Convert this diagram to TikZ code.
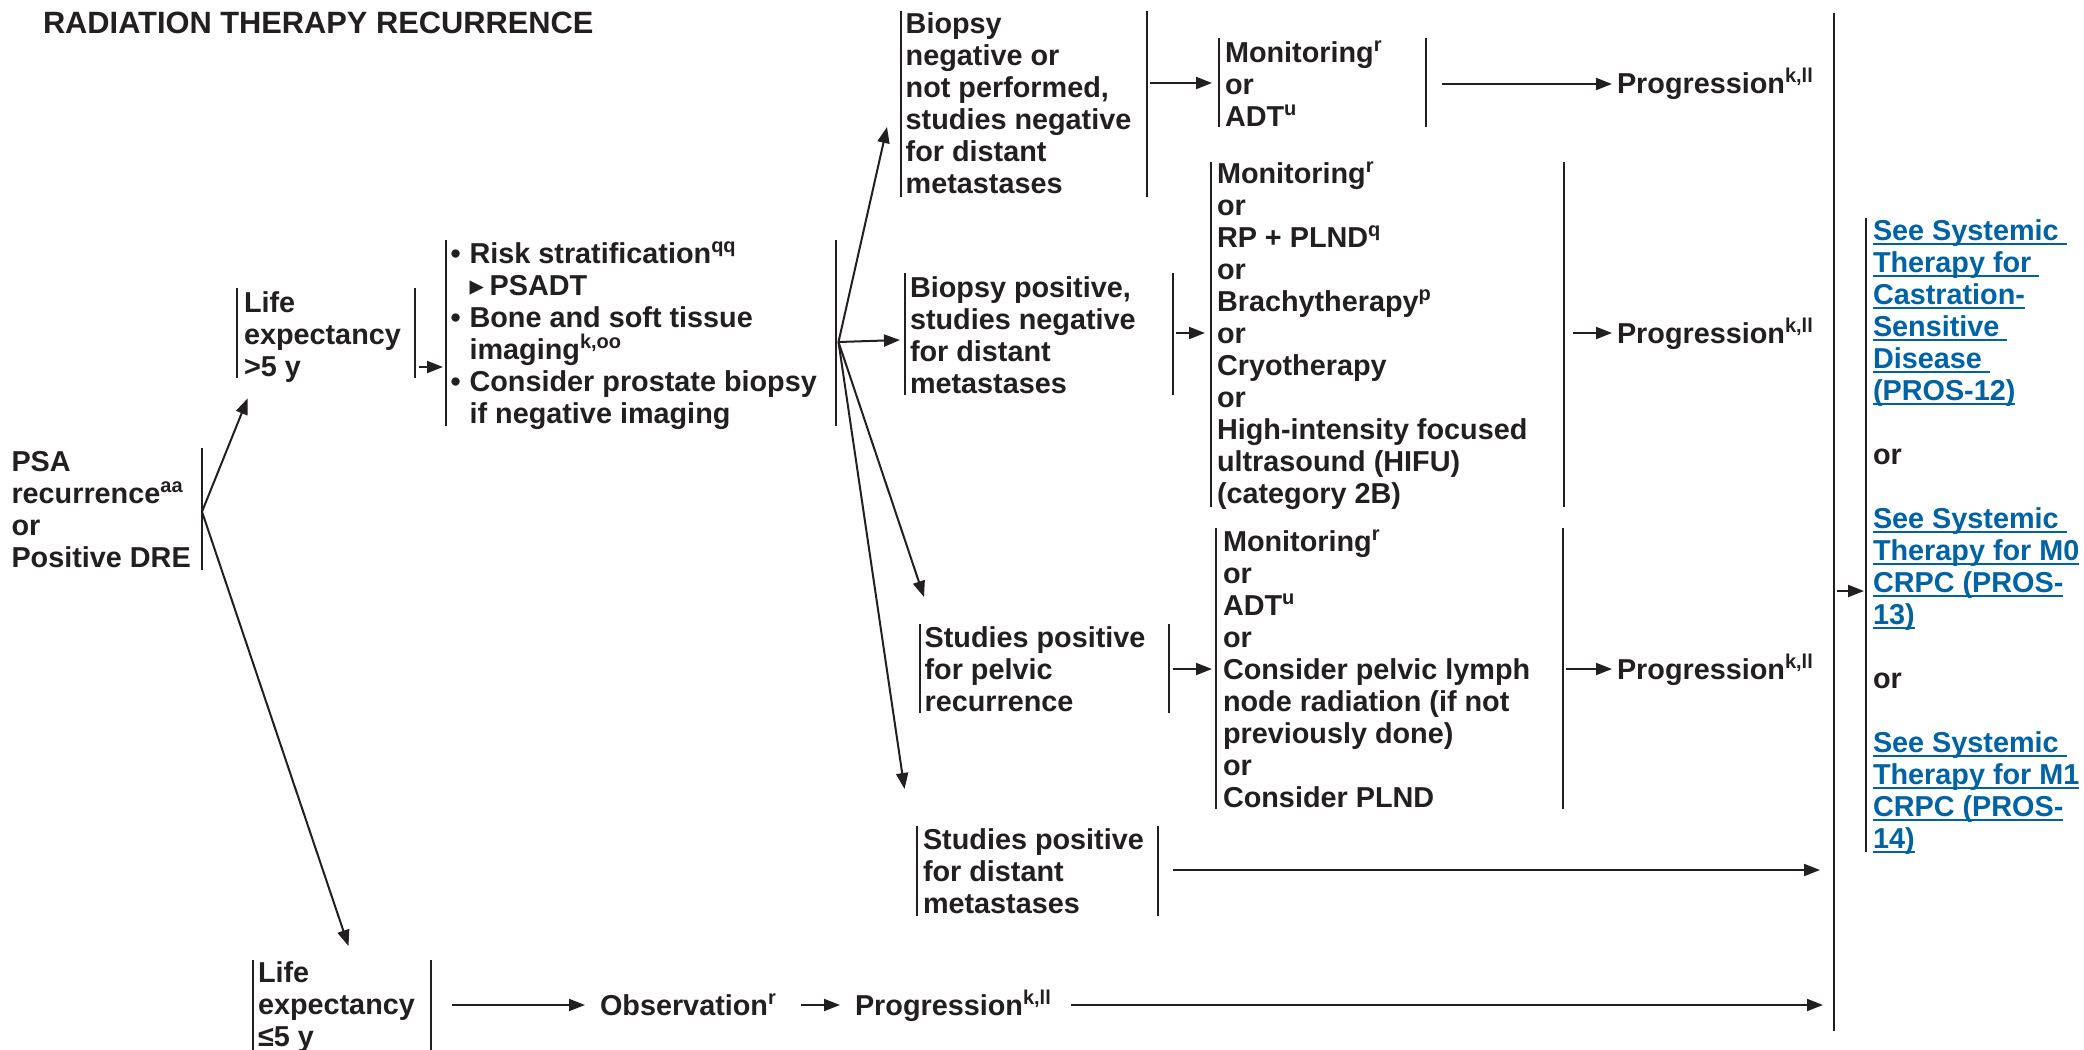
\documentclass[tikz,border=0pt]{standalone}
\usepackage{fontspec}
\setmainfont{Liberation Sans}
\newfontfamily\dejavu{DejaVu Sans}
\usetikzlibrary{arrows.meta}
\definecolor{ink}{RGB}{35,31,32}
\definecolor{linkblue}{RGB}{0,99,166}
\newcommand\bul{\makebox[9.5pt][l]{•}}
\newcommand\ulink[1]{\setbox0=\hbox{#1}\rlap{\rule[-2.6pt]{\wd0}{1pt}}\box0}
\lineskiplimit=-20pt
\begin{document}
\begin{tikzpicture}[x=0.5pt,y=-0.5pt,
  txt/.style={anchor=base west, align=left, inner sep=0pt, outer sep=0pt,
    font=\fontsize{14.4}{16}\selectfont\bfseries, text=ink},
  bar/.style={draw=ink, line width=1pt},
  bigbar/.style={draw=ink, line width=1.4pt},
  arr/.style={draw=ink, line width=1pt, -{Triangle[length=8pt,width=6pt]}}]
\fill[white] (0,0) rectangle (2084,1050);
\useasboundingbox (0,0) rectangle (2084,1050);

% ---------- texts (anchor = baseline of the last line) ----------
\node[txt, font=\fontsize{15.4}{18}\selectfont\bfseries] (title) at (43,33) {RADIATION THERAPY RECURRENCE};
\node[txt] (psa) at (11.5,567) {PSA\\recurrence\textsuperscript{aa}\\or\\Positive DRE};
\node[txt] (life5) at (244,376) {Life\\expectancy\\>5 y};
\node[txt] (steps) at (450.6,423) {\bul Risk stratification\textsuperscript{qq}\\
\hspace*{9.5pt}\makebox[10pt][l]{\dejavu ▸}PSADT\\
\bul Bone and soft tissue\\
\hspace*{9.5pt}imaging\textsuperscript{k,oo}\\
\bul Consider prostate biopsy\\
\hspace*{9.5pt}if negative imaging};
\node[txt] (bneg) at (905.7,193) {Biopsy\\negative or\\not performed,\\studies negative\\for distant\\metastases};
\node[txt] (mon1) at (1225,126) {Monitoring\textsuperscript{r}\\or\\ADT\textsuperscript{u}};
\node[txt] (bpos) at (910,393) {Biopsy positive,\\studies negative\\for distant\\metastases};
\node[txt] (tx2) at (1217,503) {Monitoring\textsuperscript{r}\\or\\RP + PLND\textsuperscript{q}\\or\\Brachytherapy\textsuperscript{p}\\or\\Cryotherapy\\or\\High-intensity focused\\ultrasound (HIFU)\\(category 2B)};
\node[txt] (pelv) at (924.6,711) {Studies positive\\for pelvic\\recurrence};
\node[txt] (tx3) at (1223,807) {Monitoring\textsuperscript{r}\\or\\ADT\textsuperscript{u}\\or\\Consider pelvic lymph\\node radiation (if not\\previously done)\\or\\Consider PLND};
\node[txt] (dist) at (923,913) {Studies positive\\for distant\\metastases};
\node[txt] (lifele5) at (258,1046) {Life\\expectancy\\≤5 y};
\node[txt] (obs) at (600,1015) {Observation\textsuperscript{r}};
\node[txt] (prog1) at (1617,93) {Progression\textsuperscript{k,ll}};
\node[txt] (prog2) at (1617,343) {Progression\textsuperscript{k,ll}};
\node[txt] (prog3) at (1617,679) {Progression\textsuperscript{k,ll}};
\node[txt] (prog4) at (855,1015) {Progression\textsuperscript{k,ll}};
\node[txt, text=linkblue] (links) at (1873,848) {\ulink{See Systemic\ }\\\ulink{Therapy for\ }\\\ulink{Castration-}\\\ulink{Sensitive\ }\\\ulink{Disease\ }\\\ulink{(PROS-12)}\\\mbox{}\\{\color{ink}or}\\\mbox{}\\\ulink{See Systemic\ }\\\ulink{Therapy for M0}\\\ulink{CRPC (PROS-}\\\ulink{13)}\\\mbox{}\\{\color{ink}or}\\\mbox{}\\\ulink{See Systemic\ }\\\ulink{Therapy for M1}\\\ulink{CRPC (PROS-}\\\ulink{14)}};

% ---------- bars ----------
\draw[bar] (202,448) -- (202,570);
\draw[bar] (236.5,288) -- (236.5,378);  \draw[bar] (415,288) -- (415,378);
\draw[bar] (445.5,240) -- (445.5,426);  \draw[bar] (836,240) -- (836,426);
\draw[bar] (900.5,11) -- (900.5,197);   \draw[bar] (1146.8,11) -- (1146.8,197);
\draw[bar] (1219,38) -- (1219,127);     \draw[bar] (1425.8,38) -- (1425.8,127);
\draw[bar] (904.5,273) -- (904.5,395);  \draw[bar] (1172.6,273) -- (1172.6,395);
\draw[bar] (1210.5,162) -- (1210.5,507);\draw[bar] (1563.6,162) -- (1563.6,507);
\draw[bar] (919.5,624) -- (919.5,713);  \draw[bar] (1169,624) -- (1169,713);
\draw[bar] (1216,528) -- (1216,809);    \draw[bar] (1563,528) -- (1563,809);
\draw[bar] (917,826) -- (917,916);      \draw[bar] (1157.7,826) -- (1157.7,916);
\draw[bar] (252.6,960) -- (252.6,1050); \draw[bar] (430.5,960) -- (430.5,1050);
\draw[bigbar] (1834,13) -- (1834,1031);
\draw[bigbar] (1866,218) -- (1866,852);

% ---------- connector ends ----------
\coordinate (psaO) at (202,511.7);
\coordinate (life5I) at (247.7,398.3);
\coordinate (lifele5I) at (348.5,946);
\coordinate (life5O) at (419,367);
\coordinate (stepsI) at (443,367);
\coordinate (stepsO) at (838.5,342);
\coordinate (bnegI) at (887,127);
\coordinate (bposI) at (900,340);
\coordinate (pelvI) at (924,597);
\coordinate (distI) at (904.5,789);
\coordinate (bnegO) at (1149.7,83);
\coordinate (mon1I) at (1212,83);
\coordinate (mon1O) at (1442,84);
\coordinate (prog1I) at (1612,84);
\coordinate (bposO) at (1176,333);
\coordinate (tx2I) at (1205,333);
\coordinate (tx2O) at (1573,333);
\coordinate (prog2I) at (1612,333);
\coordinate (pelvO) at (1172.6,669);
\coordinate (tx3I) at (1212,669);
\coordinate (tx3O) at (1566,669);
\coordinate (prog3I) at (1612,669);
\coordinate (distO) at (1173,870);
\coordinate (finA) at (1820,870);
\coordinate (lifele5O) at (452,1005);
\coordinate (obsI) at (585,1005);
\coordinate (obsO) at (801,1005);
\coordinate (prog4I) at (840,1005);
\coordinate (prog4O) at (1071,1005);
\coordinate (finB) at (1823,1005);
\coordinate (finO) at (1837,591);
\coordinate (linksI) at (1864,591);

% ---------- connectors ----------
\draw[arr] (psaO) -- (life5I);
\draw[arr] (psaO) -- (lifele5I);
\draw[arr] (life5O) -- (stepsI);
\draw[arr] (stepsO) -- (bnegI);
\draw[arr] (stepsO) -- (bposI);
\draw[arr] (stepsO) -- (pelvI);
\draw[arr] (stepsO) -- (distI);
\draw[arr] (bnegO) -- (mon1I);
\draw[arr] (mon1O) -- (prog1I);
\draw[arr] (bposO) -- (tx2I);
\draw[arr] (tx2O) -- (prog2I);
\draw[arr] (pelvO) -- (tx3I);
\draw[arr] (tx3O) -- (prog3I);
\draw[arr] (distO) -- (finA);
\draw[arr] (lifele5O) -- (obsI);
\draw[arr] (obsO) -- (prog4I);
\draw[arr] (prog4O) -- (finB);
\draw[arr] (finO) -- (linksI);
\end{tikzpicture}
\end{document}
